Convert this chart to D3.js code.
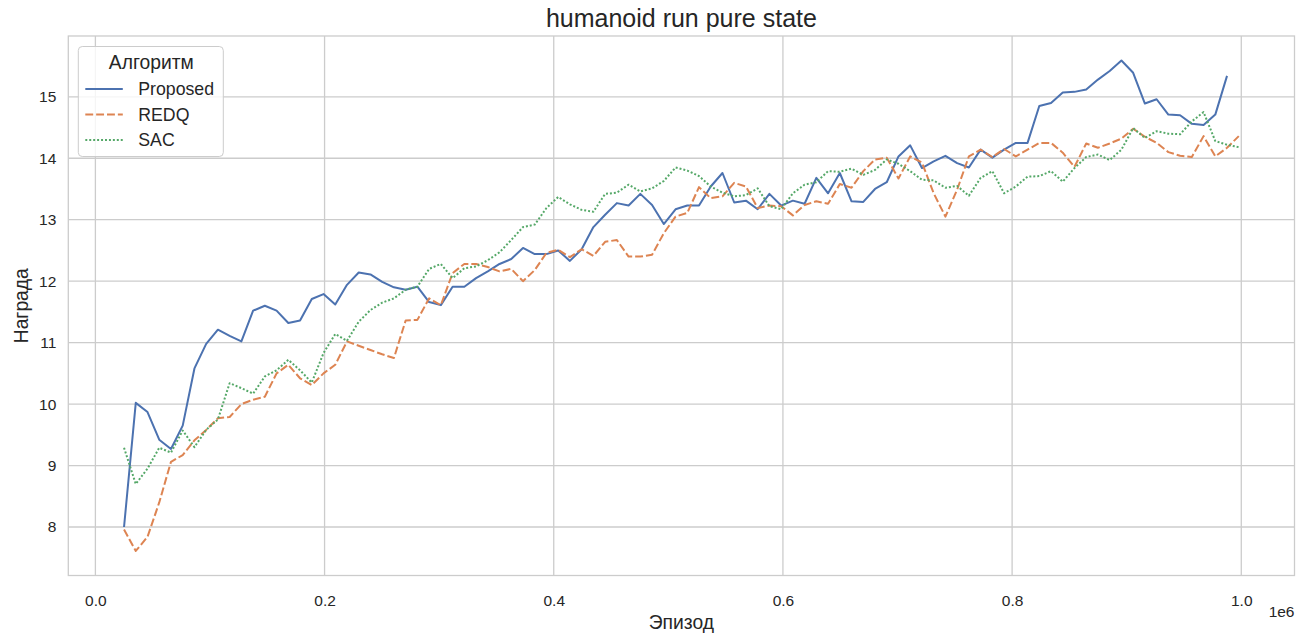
<!DOCTYPE html>
<html>
<head>
<meta charset="utf-8">
<script src="https://cdn.jsdelivr.net/npm/d3@7"></script>
<style>
  html, body { margin: 0; padding: 0; background: #ffffff; }
  svg { display: block; font-family: "Liberation Sans", Arial, sans-serif; }
</style>
</head>
<body>
<script>
// Evaluation points (environment episodes)
const episodes = [
  25000, 35240, 45480, 55720, 65960, 76200, 86440, 96680, 106920, 117160,
  127400, 137640, 147880, 158120, 168360, 178600, 188840, 199080, 209320, 219560,
  229800, 240040, 250280, 260520, 270760, 281000, 291240, 301480, 311720, 321960,
  332200, 342440, 352680, 362920, 373160, 383400, 393640, 403880, 414120, 424360,
  434600, 444840, 455080, 465320, 475560, 485800, 496040, 506280, 516520, 526760,
  537000, 547240, 557480, 567720, 577960, 588200, 598440, 608680, 618920, 629160,
  639400, 649640, 659880, 670120, 680360, 690600, 700840, 711080, 721320, 731560,
  741800, 752040, 762280, 772520, 782760, 793000, 803240, 813480, 823720, 833960,
  844200, 854440, 864680, 874920, 885160, 895400, 905640, 915880, 926120, 936360,
  946600, 956840, 967080, 977320, 987560, 997800
];

// Mean reward per algorithm
const proposed = [
  8.00, 10.02, 9.87, 9.42, 9.27, 9.65, 10.58, 10.98, 11.21, 11.11,
  11.02, 11.52, 11.60, 11.52, 11.32, 11.36, 11.71, 11.79, 11.62, 11.94,
  12.14, 12.11, 11.99, 11.90, 11.86, 11.91, 11.66, 11.61, 11.91, 11.91,
  12.05, 12.16, 12.28, 12.36, 12.54, 12.44, 12.44, 12.50, 12.33, 12.52,
  12.88, 13.08, 13.27, 13.23, 13.42, 13.24, 12.93, 13.17, 13.23, 13.23,
  13.54, 13.76, 13.28, 13.31, 13.17, 13.42, 13.23, 13.31, 13.26, 13.68,
  13.43, 13.76, 13.30, 13.29, 13.50, 13.61, 14.03, 14.21, 13.84, 13.95,
  14.04, 13.92, 13.85, 14.14, 14.01, 14.14, 14.25, 14.25, 14.85, 14.90,
  15.07, 15.08, 15.12, 15.28, 15.42, 15.59, 15.39, 14.89, 14.96, 14.71,
  14.70, 14.56, 14.54, 14.71, 15.34
];

const redq = [
  7.96, 7.61, 7.84, 8.40, 9.06, 9.17, 9.41, 9.58, 9.77, 9.79,
  10.00, 10.07, 10.12, 10.50, 10.64, 10.42, 10.31, 10.50, 10.64, 11.02,
  10.95, 10.88, 10.81, 10.75, 11.36, 11.37, 11.72, 11.61, 12.13, 12.28,
  12.28, 12.23, 12.16, 12.20, 12.00, 12.18, 12.46, 12.51, 12.39, 12.52,
  12.41, 12.64, 12.67, 12.40, 12.40, 12.43, 12.78, 13.05, 13.11, 13.53,
  13.35, 13.38, 13.60, 13.54, 13.19, 13.23, 13.22, 13.07, 13.24, 13.30,
  13.26, 13.58, 13.52, 13.79, 13.98, 14.01, 13.67, 14.03, 13.93, 13.43,
  13.05, 13.49, 14.03, 14.14, 14.02, 14.15, 14.03, 14.14, 14.25, 14.25,
  14.09, 13.86, 14.24, 14.17, 14.24, 14.32, 14.48, 14.35, 14.25, 14.10,
  14.04, 14.02, 14.36, 14.03, 14.17, 14.36
];

const sac = [
  9.29, 8.70, 8.95, 9.29, 9.21, 9.57, 9.30, 9.58, 9.75, 10.34,
  10.26, 10.17, 10.45, 10.55, 10.72, 10.55, 10.35, 10.83, 11.14, 11.03,
  11.34, 11.53, 11.65, 11.72, 11.86, 11.91, 12.20, 12.28, 12.05, 12.21,
  12.24, 12.34, 12.47, 12.67, 12.88, 12.92, 13.19, 13.37, 13.25, 13.16,
  13.13, 13.42, 13.44, 13.57, 13.46, 13.51, 13.63, 13.85, 13.80, 13.71,
  13.54, 13.44, 13.38, 13.40, 13.51, 13.22, 13.17, 13.43, 13.57, 13.61,
  13.79, 13.78, 13.83, 13.73, 13.81, 13.98, 13.91, 13.79, 13.65, 13.64,
  13.52, 13.55, 13.39, 13.68, 13.79, 13.43, 13.54, 13.70, 13.71, 13.79,
  13.62, 13.84, 14.02, 14.06, 13.97, 14.14, 14.49, 14.33, 14.44, 14.40,
  14.39, 14.60, 14.75, 14.28, 14.22, 14.18
];

const algorithms = ["Proposed", "REDQ", "SAC"];
const xTicks = [0, 200000, 400000, 600000, 800000, 1000000];
const yTicks = [8, 9, 10, 11, 12, 13, 14, 15];

const chartTitle = "humanoid run pure state";
const xLabel = "Эпизод";
const yLabel = "Награда";
const legendTitle = "Алгоритм";

const seriesValues = { "Proposed": proposed, "REDQ": redq, "SAC": sac };
const colors = { "Proposed": "#4c72b0", "REDQ": "#dd8452", "SAC": "#55a868" };
const dashes = { "Proposed": null, "REDQ": "7.9,2.95", "SAC": "1.97,1.97" };

const series = algorithms.map(name => ({
  name,
  points: seriesValues[name].map((v, i) => ({ x: episodes[i], y: v }))
}));

const W = 1313, H = 637;
const box = { left: 68.3, right: 1294.5, top: 36, bottom: 575.5 };
const textColor = "#262626";
const gridColor = "#cccccc";
const tickSize = "15.5px";

// autoscale with 5% margins, as the plotting default
const allX = series.flatMap(s => s.points.map(p => p.x));
const allY = series.flatMap(s => s.points.map(p => p.y));
const [x0, x1] = d3.extent(allX), [y0, y1] = d3.extent(allY);
const xPad = (x1 - x0) * 0.05, yPad = (y1 - y0) * 0.05;

const x = d3.scaleLinear().domain([x0 - xPad, x1 + xPad]).range([box.left, box.right]);
const y = d3.scaleLinear().domain([y0 - yPad, y1 + yPad]).range([box.bottom, box.top]);

const svg = d3.select("body").append("svg").attr("width", W).attr("height", H);
svg.append("rect").attr("width", W).attr("height", H).attr("fill", "#ffffff");

// grid
const grid = svg.append("g");
grid.selectAll("line.vx").data(xTicks).join("line")
  .attr("x1", d => x(d)).attr("x2", d => x(d))
  .attr("y1", box.top).attr("y2", box.bottom)
  .attr("stroke", gridColor).attr("stroke-width", 1.3);
grid.selectAll("line.hy").data(yTicks).join("line")
  .attr("x1", box.left).attr("x2", box.right)
  .attr("y1", d => y(d)).attr("y2", d => y(d))
  .attr("stroke", gridColor).attr("stroke-width", 1.3);

// axes (tick labels only, no tick marks)
const xAxis = d3.axisBottom(x).tickValues(xTicks).tickSize(0).tickPadding(19)
  .tickFormat(d => (d / 1e6).toFixed(1));
const gx = svg.append("g").attr("transform", `translate(0,${box.bottom})`).call(xAxis);
const yAxis = d3.axisLeft(y).tickValues(yTicks).tickSize(0).tickPadding(12)
  .tickFormat(d3.format("d"));
const gy = svg.append("g").attr("transform", `translate(${box.left},0)`).call(yAxis);
[gx, gy].forEach(g => {
  g.select(".domain").remove();
  g.selectAll("text").attr("fill", textColor).style("font-size", tickSize)
    .style("font-family", "'Liberation Sans', Arial, sans-serif");
});

// frame
svg.append("rect")
  .attr("x", box.left).attr("y", box.top)
  .attr("width", box.right - box.left).attr("height", box.bottom - box.top)
  .attr("fill", "none").attr("stroke", gridColor).attr("stroke-width", 1.3);

// lines
const line = d3.line().x(d => x(d.x)).y(d => y(d.y));
const plot = svg.append("g");
plot.selectAll("path.series").data(series).join("path")
  .attr("class", "series")
  .attr("d", d => line(d.points))
  .attr("fill", "none")
  .attr("stroke", d => colors[d.name])
  .attr("stroke-width", 2)
  .attr("stroke-linejoin", "round")
  .attr("stroke-dasharray", d => dashes[d.name]);

// titles
svg.append("text").attr("x", (box.left + box.right) / 2).attr("y", 27)
  .attr("text-anchor", "middle").attr("fill", textColor)
  .style("font-size", "25px").text(chartTitle);
svg.append("text").attr("x", (box.left + box.right) / 2).attr("y", 629)
  .attr("text-anchor", "middle").attr("fill", textColor)
  .style("font-size", "19.3px").text(xLabel);
svg.append("text")
  .attr("transform", `translate(28,${(box.top + box.bottom) / 2}) rotate(-90)`)
  .attr("text-anchor", "middle").attr("fill", textColor)
  .style("font-size", "19.3px").text(yLabel);
svg.append("text").attr("x", box.right).attr("y", 617)
  .attr("text-anchor", "end").attr("fill", textColor)
  .style("font-size", tickSize).text("1e6");

// legend
const lg = svg.append("g").attr("transform", "translate(78.3,46.5)");
lg.append("rect").attr("width", 145).attr("height", 110).attr("rx", 4)
  .attr("fill", "#ffffff").attr("fill-opacity", 0.8)
  .attr("stroke", gridColor).attr("stroke-width", 1);
lg.append("text").attr("x", 73).attr("y", 22.5).attr("text-anchor", "middle")
  .attr("fill", textColor).style("font-size", "19.3px").text(legendTitle);
const items = lg.selectAll("g.item").data(algorithms).join("g")
  .attr("class", "item")
  .attr("transform", (d, i) => `translate(0,${42.5 + i * 25.5})`);
items.append("line").attr("x1", 7).attr("x2", 44.5).attr("y1", 0).attr("y2", 0)
  .attr("stroke", d => colors[d]).attr("stroke-width", 2)
  .attr("stroke-dasharray", d => dashes[d]);
items.append("text").attr("x", 60).attr("y", 6.3)
  .attr("fill", textColor).style("font-size", "17.7px").text(d => d);
</script>
</body>
</html>
